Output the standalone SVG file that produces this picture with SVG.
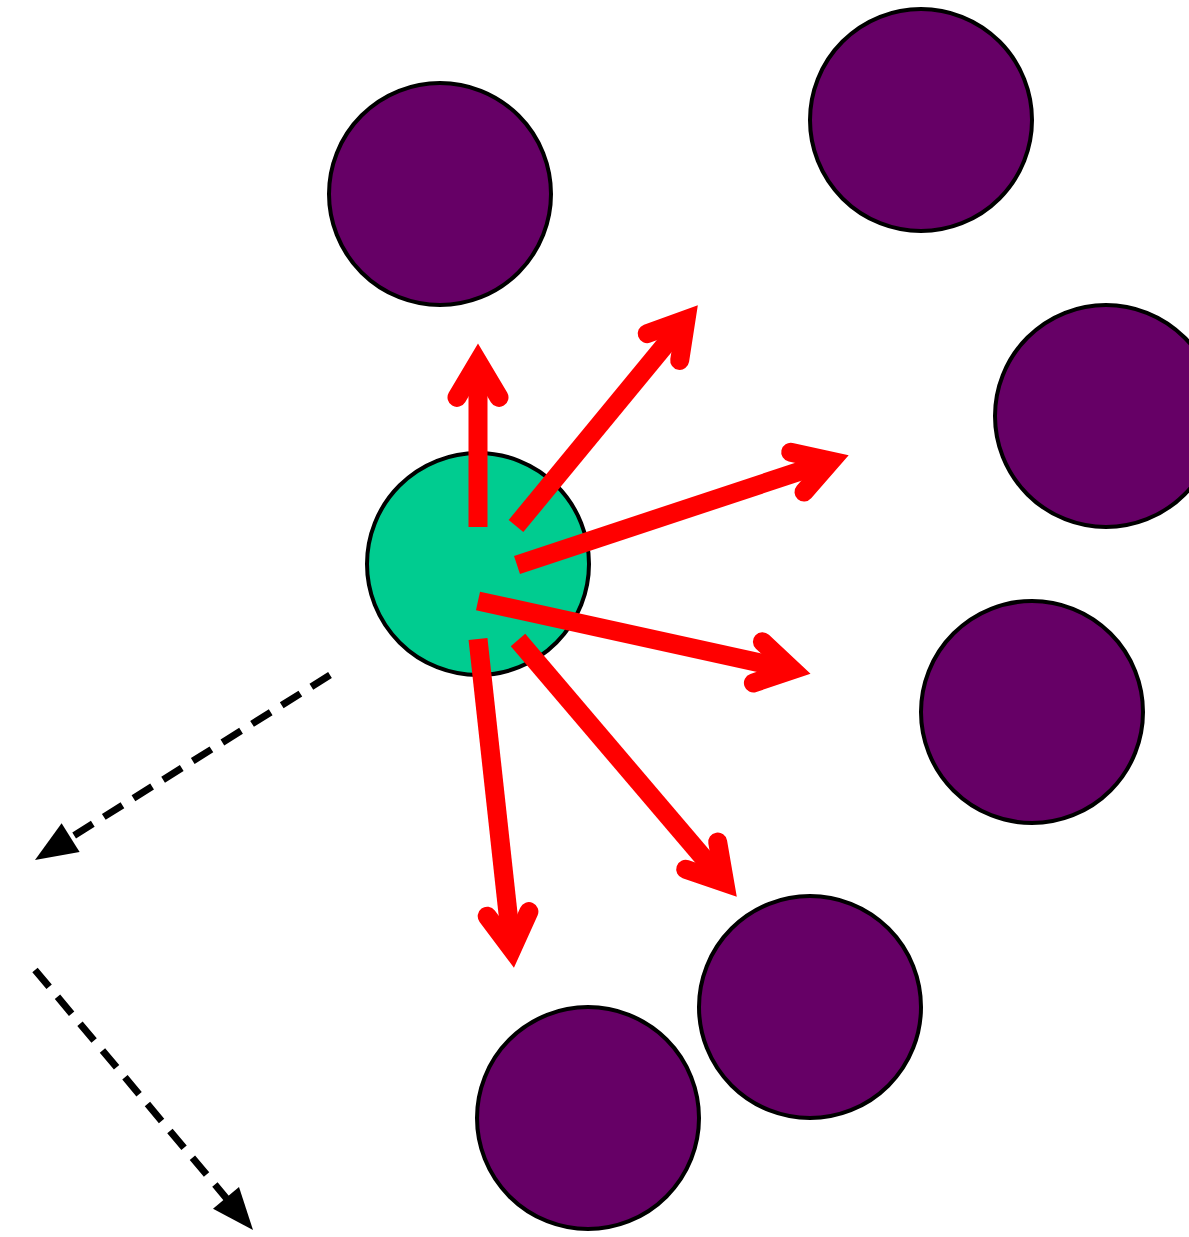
<svg xmlns="http://www.w3.org/2000/svg" width="1189" height="1237" viewBox="0 0 1189 1237">
<style>
.mol{fill:#660066;stroke:#000;stroke-width:4}
.center{fill:#00CC90;stroke:#000;stroke-width:4}
.ray{stroke:#FF0000;stroke-width:19;fill:none;stroke-linecap:butt}
.head{stroke:#FF0000;stroke-width:19;fill:none;stroke-linecap:round;stroke-linejoin:miter;stroke-miterlimit:4}
.drift{stroke:#000;stroke-width:7;fill:none;stroke-dasharray:22 13}
.tip{fill:#000}
</style>
<rect width="1189" height="1237" fill="#fff"/>
<g id="m1"><circle class="mol" cx="440" cy="194" r="111"/></g>
<g id="m2"><circle class="mol" cx="921" cy="120" r="111"/></g>
<g id="m3"><circle class="mol" cx="1106" cy="416" r="111"/></g>
<g id="m4"><circle class="mol" cx="1032" cy="712" r="111"/></g>
<g id="m5"><circle class="mol" cx="810" cy="1007" r="111"/></g>
<g id="m6"><circle class="mol" cx="588" cy="1118" r="111"/></g>
<g id="center"><circle class="center" cx="478" cy="564" r="111"/></g>
<g id="connectors">
<line class="ray" x1="478" y1="527" x2="478" y2="362"/>
<polyline class="head" points="457,397.4 478,362 499,397.4"/>
<line class="ray" x1="516" y1="526" x2="686" y2="319.6"/>
<polyline class="head" points="647.2,333.6 686,319.6 679.7,360.4"/>
<line class="ray" x1="517" y1="565" x2="831" y2="461"/>
<polyline class="head" points="790.7,452.2 831,461 804,492.1"/>
<line class="ray" x1="478" y1="601" x2="792.4" y2="669.9"/>
<polyline class="head" points="762.4,641.8 792.4,669.9 753.4,682.9"/>
<line class="ray" x1="518" y1="640" x2="724.7" y2="882.6"/>
<polyline class="head" points="717.7,842 724.7,882.6 685.7,869.3"/>
<line class="ray" x1="478" y1="639" x2="511.9" y2="949.1"/>
<polyline class="head" points="528.9,911.6 511.9,949.1 487.2,916.2"/>
<line class="drift" x1="330" y1="675" x2="67.2" y2="839.8"/>
<polygon class="tip" points="35,860 61.6,823.3 79.6,852.1"/>
<line class="drift" x1="35" y1="970" x2="228.6" y2="1200.9"/>
<polygon class="tip" points="253,1230 213,1208.7 239,1186.9"/>
</g>
</svg>
